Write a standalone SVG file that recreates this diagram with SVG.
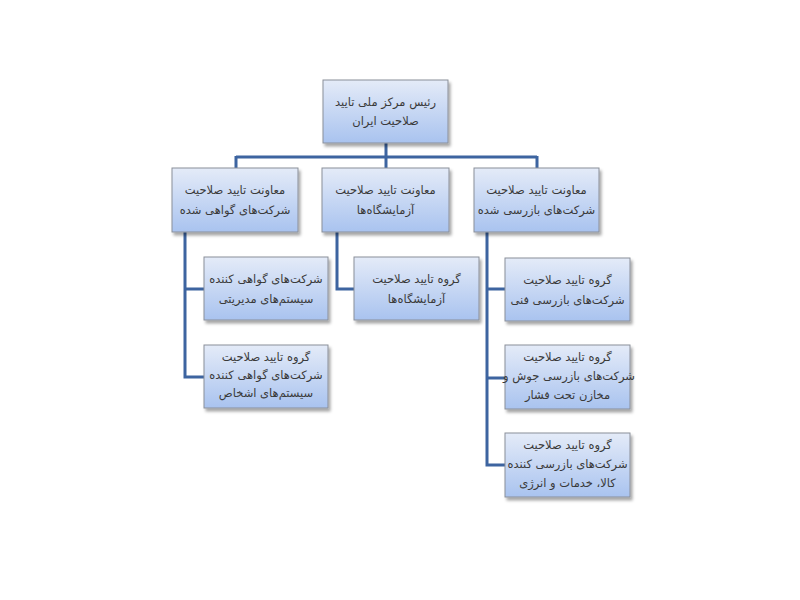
<svg xmlns="http://www.w3.org/2000/svg" width="800" height="600" viewBox="0 0 800 600">
<defs>
<linearGradient id="g" x1="0" y1="0" x2="0" y2="1">
<stop offset="0" stop-color="#e4ebf8"/>
<stop offset="1" stop-color="#a9c3ef"/>
</linearGradient>
<filter id="sh" x="-10%" y="-10%" width="125%" height="135%">
<feDropShadow dx="2" dy="3" stdDeviation="1.5" flood-color="#000" flood-opacity="0.35"/>
</filter>
<style>
.box{fill:url(#g);stroke:#8a8f99;stroke-width:1;filter:url(#sh)}
.t{font-family:"DejaVu Sans",sans-serif;font-size:11.5px;fill:#3a3a3a;text-anchor:middle;direction:rtl}
.c{fill:none;stroke:#3d64a0;stroke-width:3}
</style>
</defs>
<rect width="800" height="600" fill="#fff"/>
<g id="connectors">
<path class="c" d="M386,143 V157 M236,157 H537 M236,156 V168 M537,156 V168"/>
<path class="c" d="M386,157 V168"/>
<path class="c" d="M185,232 V377 H204 M185,289 H204"/>
<path class="c" d="M337,232 V289 H354"/>
<path class="c" d="M487,232 V465 H505 M487,289 H505 M487,378 H505"/>
</g>
<g id="root">
<rect class="box" x="323" y="80" width="125" height="63"/>
<text class="t" x="385.5" y="106">رئیس مرکز ملی تایید</text>
<text class="t" x="385.5" y="125">صلاحیت ایران</text>
</g>
<g id="dep-certified">
<rect class="box" x="172" y="168" width="126" height="64"/>
<text class="t" x="235" y="194">معاونت تایید صلاحیت</text>
<text class="t" x="235" y="214">شرکت‌های گواهی شده</text>
</g>
<g id="dep-labs">
<rect class="box" x="322" y="168" width="127" height="64"/>
<text class="t" x="385.5" y="194">معاونت تایید صلاحیت</text>
<text class="t" x="385.5" y="214">آزمایشگاه‌ها</text>
</g>
<g id="dep-inspection">
<rect class="box" x="474" y="168" width="125" height="64"/>
<text class="t" x="536.5" y="194">معاونت تایید صلاحیت</text>
<text class="t" x="536.5" y="214">شرکت‌های بازرسی شده</text>
</g>
<g id="grp-management">
<rect class="box" x="204" y="257" width="124" height="63"/>
<text class="t" x="266" y="283">شرکت‌های گواهی کننده</text>
<text class="t" x="266" y="303">سیستم‌های مدیریتی</text>
</g>
<g id="grp-persons">
<rect class="box" x="204" y="345" width="124" height="63"/>
<text class="t" x="266" y="361">گروه تایید صلاحیت</text>
<text class="t" x="266" y="379">شرکت‌های گواهی کننده</text>
<text class="t" x="266" y="397">سیستم‌های اشخاص</text>
</g>
<g id="grp-labs">
<rect class="box" x="354" y="257" width="125" height="63"/>
<text class="t" x="416.5" y="283">گروه تایید صلاحیت</text>
<text class="t" x="416.5" y="303">آزمایشگاه‌ها</text>
</g>
<g id="grp-technical">
<rect class="box" x="505" y="258" width="125" height="63"/>
<text class="t" x="567.5" y="284">گروه تایید صلاحیت</text>
<text class="t" x="567.5" y="304">شرکت‌های بازرسی فنی</text>
</g>
<g id="grp-welding">
<rect class="box" x="505" y="345" width="125" height="64"/>
<text class="t" x="567.5" y="361">گروه تایید صلاحیت</text>
<text class="t" x="569" y="380">شرکت‌های بازرسی جوش و</text>
<text class="t" x="567.5" y="399">مخازن تحت فشار</text>
</g>
<g id="grp-goods">
<rect class="box" x="505" y="433" width="125" height="64"/>
<text class="t" x="567.5" y="449">گروه تایید صلاحیت</text>
<text class="t" x="567.5" y="468">شرکت‌های بازرسی کننده</text>
<text class="t" x="567.5" y="487">کالا، خدمات و انرژی</text>
</g>
</svg>
